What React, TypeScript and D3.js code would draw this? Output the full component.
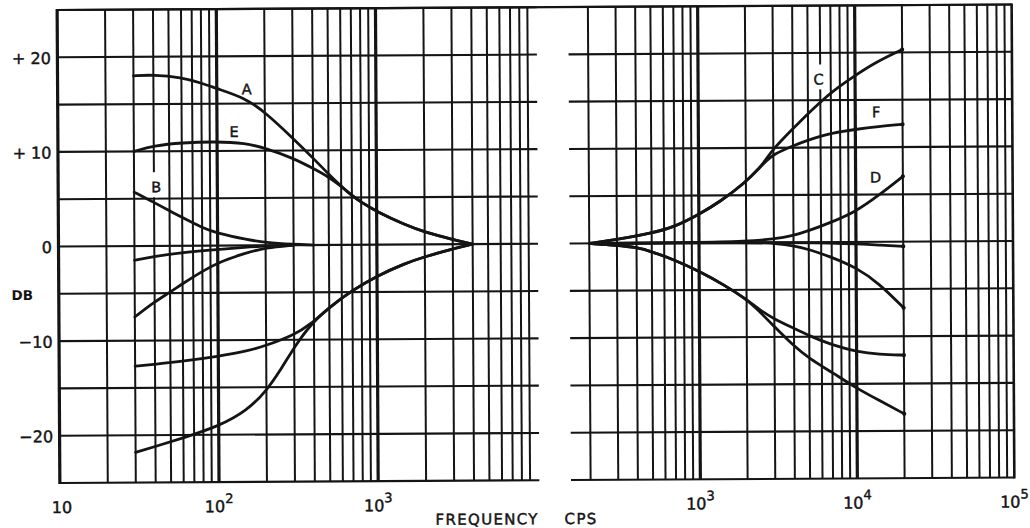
import * as d3 from 'd3';

// ---- data (frequency in cps, response in dB) ----

// low-frequency panel
const freqA = [30, 40, 60, 80, 100, 150, 200, 300, 400, 500, 600, 700, 800, 1000, 1500, 2000, 3000, 4000];
const dbA = [18.0, 18.1, 17.8, 17.2, 16.6, 15.6, 14.1, 11.3, 9.2, 7.5, 6.2, 5.2, 4.5, 3.5, 2.1, 1.3, 0.5, 0];
const freqE = [30, 40, 60, 100, 150, 200, 300, 400, 500, 600, 700, 800, 1000, 1500, 2000, 3000, 4000];
const dbE = [10.0, 10.6, 10.9, 11.0, 10.8, 10.3, 9.2, 8.1, 7.2, 6.2, 5.2, 4.5, 3.5, 2.1, 1.3, 0.5, 0];
const freqB = [30, 40, 50, 60, 80, 100, 150, 200, 300, 400];
const dbB = [5.7, 4.6, 3.7, 3.0, 1.9, 1.3, 0.64, 0.28, 0.07, 0];
const freqCut1 = [30, 40, 60, 100, 150, 200, 300];
const dbCut1 = [-1.5, -1.1, -0.7, -0.4, -0.2, -0.08, 0];
const freqCut2 = [30, 40, 50, 60, 80, 100, 150, 200, 300];
const dbCut2 = [-7.5, -5.9, -4.9, -4.0, -2.7, -1.8, -0.8, -0.25, 0];
const freqCut3 = [30, 40, 60, 100, 150, 200, 300, 380, 500, 700, 1000, 1500, 2000, 3000, 4000];
const dbCut3 = [-12.7, -12.5, -12.2, -11.7, -11.2, -10.6, -9.5, -8.4, -6.6, -4.8, -3.3, -2.0, -1.3, -0.5, 0];
const freqCut4 = [30, 40, 60, 100, 150, 200, 250, 300, 380, 500, 700, 1000, 1500, 2000, 3000, 4000];
const dbCut4 = [-21.8, -21.2, -20.3, -19.1, -17.5, -15.4, -13.0, -10.8, -8.4, -6.6, -4.8, -3.3, -2.0, -1.3, -0.5, 0];

// high-frequency panel
const freqCF = [200, 300, 500, 700, 1000, 1360, 2000, 2450, 2700, 3000, 4000, 5000, 6000, 7000, 10000, 14000, 20000];
const dbC = [0, 0.4, 1.05, 1.7, 3.0, 4.3, 6.4, 7.9, 8.8, 9.9, 12.0, 13.6, 14.8, 15.8, 17.6, 19.1, 20.3];
const dbF = [0, 0.4, 1.05, 1.7, 3.0, 4.3, 6.4, 7.9, 8.6, 9.3, 10.2, 10.8, 11.2, 11.5, 11.9, 12.2, 12.4];
const freqD = [200, 1000, 2000, 3000, 4000, 5000, 7000, 10000, 14000, 20000];
const dbD = [0, 0.02, 0.12, 0.35, 0.7, 1.2, 2.1, 3.2, 4.9, 6.9];
const freqDroop = [200, 4000, 7000, 10000, 14000, 20000];
const dbDroop = [0, 0, -0.1, -0.2, -0.35, -0.5];
const freqG = [200, 2500, 3000, 4000, 5000, 7000, 10000, 14000, 20000];
const dbG = [0, 0, -0.1, -0.35, -0.75, -1.6, -2.7, -4.4, -7.0];
const freqIJ = [200, 300, 400, 500, 700, 1000, 1420, 2000, 2450, 3000, 4000, 5000, 7000, 10000, 14000, 20000];
const dbI = [0, -0.2, -0.45, -0.9, -1.8, -3.0, -4.4, -6.0, -7.2, -8.1, -9.1, -9.9, -10.9, -11.6, -11.9, -12.0];
const dbJ = [0, -0.2, -0.45, -0.9, -1.8, -3.0, -4.4, -6.0, -7.4, -8.9, -11.0, -12.3, -13.8, -15.5, -16.8, -18.2];

// curve letters, placed in data units
const labelText = ['A', 'E', 'B', 'C', 'F', 'D'];
const labelPanel = ['low', 'low', 'low', 'high', 'high', 'high'];
const labelFreq = [154, 128, 41.3, 5850, 13600, 13400];
const labelDb = [16.5, 12.0, 6.2, 17.2, 13.7, 6.8];

// axes
const dbTicks = [20, 10, 0, -10, -20];
const dbTickLabels = ['+ 20', '+ 10', '0', '−10', '−20'];
const lowDecades = [1, 2, 3];
const highDecades = [3, 4, 5];

const INK = '#141414';
const FONT = '"DejaVu Sans", Verdana, sans-serif';

const pairs = (f: number[], v: number[]) => f.map((d, i) => [d, v[i]] as [number, number]);

export default function App() {
  const y = d3.scaleLinear().domain([-25, 25]).range([483, 10]);
  const xLow = d3.scaleLog().domain([10, 10000]).range([58.5, 536]);
  const xHigh = d3.scaleLog().domain([1000, 100000]).range([699, 1013]);

  const lowGrid = xLow.ticks().filter(v => v > 10 && v < 10000);
  const highGrid = d3.scaleLog().domain([200, 100000]).ticks().filter(v => v < 100000);
  const hGrid = d3.range(-25, 26, 5);
  const isDecade = (v: number) => Math.abs(Math.log10(v) - Math.round(Math.log10(v))) < 1e-9;

  const lowCurves = [
    pairs(freqA, dbA), pairs(freqE, dbE), pairs(freqB, dbB),
    pairs(freqCut1, dbCut1), pairs(freqCut2, dbCut2), pairs(freqCut3, dbCut3), pairs(freqCut4, dbCut4),
  ];
  const highCurves = [
    pairs(freqCF, dbC), pairs(freqCF, dbF), pairs(freqD, dbD), pairs(freqDroop, dbDroop),
    pairs(freqG, dbG), pairs(freqIJ, dbI), pairs(freqIJ, dbJ),
  ];

  // the printed curves are drawn smooth, so a B-spline through the readings
  const lineFor = (xs: d3.ScaleLogarithmic<number, number>) =>
    d3.line<[number, number]>().x(d => xs(d[0])).y(d => y(d[1])).curve(d3.curveBasis);
  const lowLine = lineFor(xLow);
  const highLine = lineFor(xHigh);

  const lowRight = xLow(10000) + 2;
  const highLeft = xHigh(150);

  const labels = labelText.map((t, i) => {
    const xs = labelPanel[i] === 'low' ? xLow : xHigh;
    const grid = labelPanel[i] === 'low' ? lowGrid : highGrid;
    const lx = xs(labelFreq[i]);
    const ly = y(labelDb[i]);
    const hit = grid.find(g => Math.abs(xs(g) - lx) < 4);
    return { t, lx, ly, gapX: hit !== undefined ? xs(hit) : null };
  });

  // text is set a touch heavier, like the printed lettering
  const textInk = { fill: INK, stroke: INK, strokeWidth: 0.45, fontFamily: FONT };

  return (
    <svg width={1030} height={528} style={{ position: 'absolute', left: 0, top: 0, background: '#fff' }}>
      <g transform="rotate(-0.33, 58.5, 247)" fill="none" stroke={INK}>
        {/* horizontal grid, broken between panels */}
        {hGrid.map(v => (
          <g key={'h' + v} strokeWidth={2.1}>
            <line x1={xLow(10)} x2={lowRight} y1={y(v)} y2={y(v)} />
            <line x1={highLeft} x2={xHigh(100000)} y1={y(v)} y2={y(v)} />
          </g>
        ))}
        {/* top border runs across */}
        <line x1={xLow(10)} x2={xHigh(100000)} y1={y(25)} y2={y(25)} strokeWidth={2.2} />
        {/* vertical grid */}
        {lowGrid.map(v => (
          <line key={'l' + v} x1={xLow(v)} x2={xLow(v)} y1={y(25)} y2={y(-25)} strokeWidth={isDecade(v) ? 3.2 : 2} />
        ))}
        {highGrid.map(v => (
          <line key={'r' + v} x1={xHigh(v)} x2={xHigh(v)} y1={y(25)} y2={y(-25)} strokeWidth={isDecade(v) ? 3.2 : 2} />
        ))}
        <line x1={xLow(10)} x2={xLow(10)} y1={y(25) - 1} y2={y(-25) + 1} strokeWidth={3.2} />
        <line x1={xHigh(100000)} x2={xHigh(100000)} y1={y(25) - 1} y2={y(-25) + 1} strokeWidth={2.6} />

        {/* breaks in the grid behind the curve letters */}
        {labels.filter(l => l.gapX !== null).map(l => (
          <rect key={'gap' + l.t} x={(l.gapX as number) - 4} y={l.ly - 15} width={8} height={25} fill="#fff" stroke="none" />
        ))}

        {/* response curves */}
        {lowCurves.map((c, i) => (
          <path key={'lc' + i} d={lowLine(c) || ''} strokeWidth={2.8} strokeLinecap="round" />
        ))}
        {highCurves.map((c, i) => (
          <path key={'hc' + i} d={highLine(c) || ''} strokeWidth={2.8} strokeLinecap="round" />
        ))}
        {highCurves.map((c, i) => (
          <circle key={'dot' + i} cx={xHigh(c[c.length - 1][0])} cy={y(c[c.length - 1][1])} r={2.1} fill={INK} stroke="none" />
        ))}

        {/* letters */}
        <g {...textInk} fontSize={14.5}>
          {labels.map(l => (
            <text key={'t' + l.t} x={l.lx} y={l.ly} textAnchor="middle" dominantBaseline="central">{l.t}</text>
          ))}
        </g>

        {/* y axis */}
        <g {...textInk} fontSize={16}>
          {dbTicks.map((v, i) => (
            <text key={'yt' + v} x={52} y={y(v) + 1} textAnchor="end" dominantBaseline="central">{dbTickLabels[i]}</text>
          ))}
          <text x={22} y={y(-5) + 1} textAnchor="middle" dominantBaseline="central" fontSize={13.5} fontWeight="bold" strokeWidth={0}>DB</text>
        </g>

        {/* x axis */}
        <g {...textInk} fontSize={16}>
          {lowDecades.map(e => (
            <text key={'lx' + e} x={xLow(Math.pow(10, e)) + (e === 1 ? 2 : 0)} y={513} textAnchor="middle">
              10{e > 1 && <tspan fontSize={13} dy={-9}>{e}</tspan>}
            </text>
          ))}
          {highDecades.map(e => (
            <text key={'hx' + e} x={xHigh(Math.pow(10, e))} y={513} textAnchor="middle">
              10<tspan fontSize={13} dy={-9}>{e}</tspan>
            </text>
          ))}
          <text x={434} y={527} fontSize={15} letterSpacing={1.3}>FREQUENCY</text>
          <text x={563} y={527} fontSize={15} letterSpacing={1.3}>CPS</text>
        </g>
      </g>
    </svg>
  );
}
